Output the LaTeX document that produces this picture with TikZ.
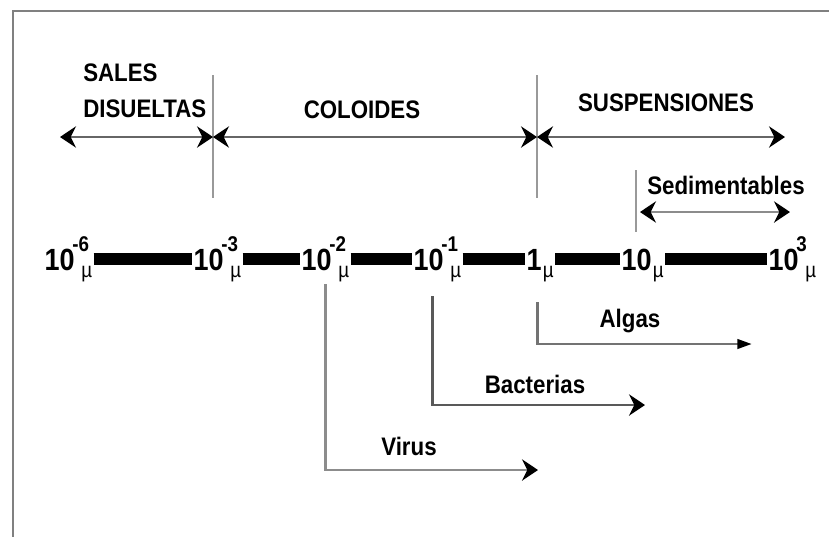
\documentclass[tikz,border=0pt]{standalone}
\usepackage{fontspec}
\setmainfont{Liberation Sans}[FakeStretch=0.88]
\usetikzlibrary{arrows.meta,calc}

% power of ten with the micron unit under the exponent
\newcommand{\pot}[2]{10\rlap{\fontsize{16}{16}\selectfont\raisebox{0.85em}{\kern-0.1em#2}}\kern5pt{\fontsize{16}{16}\selectfont\mdseries\raisebox{-0.35em}{µ}}}
\newcommand{\mic}[1]{#1\kern1pt{\fontsize{16}{16}\selectfont\mdseries\raisebox{-0.35em}{µ}}}

\begin{document}
\begin{tikzpicture}[x=0.75pt, y=-0.75pt,
    >={Stealth[length=12pt,width=16pt,inset=4pt,black]},
    frame/.style={draw=black!50, line width=2pt},
    bar/.style={line width=9pt},
    axis/.style={<->, draw=black!60, line width=2.2pt},
    tick/.style={draw=black!40, line width=2pt},
    scl/.style={anchor=base west, inner sep=1pt, text height=25pt, text depth=8pt,
                font=\fontsize{23}{25}\selectfont\bfseries},
    lbl/.style={anchor=base, inner sep=0pt, font=\fontsize{19}{27}\selectfont\bfseries},
    conn/.style={->, draw=black!55, line width=2.2pt}]

    \useasboundingbox (0,0) rectangle (829,537);

    % Frame (only top and left edges visible)
    \draw[frame] (829,11) -- (13,11) -- (13,537);

    % Limits between the three ranges
    \draw[tick] (213,75) -- (213,198);
    \draw[tick] (537,75) -- (537,198);

    % Range arrows
    \coordinate (sl) at (60,137);
    \coordinate (c1) at (213,137);
    \coordinate (c2) at (537,137);
    \coordinate (sr) at (785,137);
    \draw[axis] (sl) -- (c1);
    \draw[axis] (c1) -- (c2);
    \draw[axis] (c2) -- (sr);

    % Range names
    \node[lbl, anchor=north west, align=left] (sales) at (83,64) {SALES\\DISUELTAS};
    \node[lbl] (col) at (362,118) {COLOIDES};
    \node[lbl] (susp) at (666,111) {SUSPENSIONES};

    % Settleable part
    \draw[tick] (636,170) -- (636,232);
    \coordinate (sedl) at (640,212);
    \coordinate (sedr) at (790,212);
    \draw[axis, draw=black!45] (sedl) -- (sedr);
    \node[lbl] (sed) at (726,194) {Sedimentables};

    % Size scale
    \foreach \nm/\x/\txt in {n6/43/{\pot{10}{-6}}, n3/192/{\pot{10}{-3}},
                             n2/300/{\pot{10}{-2}}, n1/412/{\pot{10}{-1}},
                             n0/525/{\mic{1}}, n10/620/{\mic{10}}, nk3/767/{\pot{10}{3}}}
        \node[scl] (\nm) at (\x,270) {\txt};
    \foreach \a/\b in {n6/n3, n3/n2, n2/n1, n1/n0, n0/n10, n10/nk3}
        \draw[bar] (\a) -- (\b);

    % Particle sizes
    \coordinate (algend) at (752,344);
    \coordinate (bacend) at (645,405);
    \coordinate (virend) at (538,470);
    \draw[conn, -{Stealth[length=11pt,width=7pt,inset=0pt,black]}]
        ($(n0.south)+(-3,20)$) |- (algend);
    \draw[conn, draw=black!65] ($(n1.south)+(-5,14)$) |- (bacend);
    \draw[conn, draw=black!45] ($(n2.south)+(0,2)$) |- (virend);
    \node[lbl] (alg) at (630,327) {Algas};
    \node[lbl] (bac) at (535,393) {Bacterias};
    \node[lbl] (vir) at (409,455) {Virus};

\end{tikzpicture}
\end{document}
